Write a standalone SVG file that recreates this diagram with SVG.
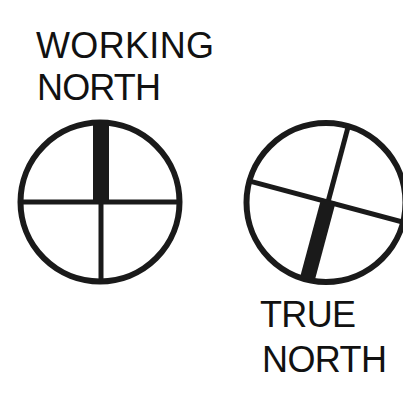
<svg xmlns="http://www.w3.org/2000/svg" width="403" height="404" viewBox="0 0 403 404">
<style>
.lbl{font-family:"Liberation Sans",Arial,sans-serif;font-size:36px;fill:#111}
.ring{fill:none;stroke:#1a1a1a;stroke-width:6}
.thin{stroke:#1a1a1a;stroke-width:5}
.bar{fill:#1a1a1a}
</style>
<rect width="403" height="404" fill="#fff"/>
<g id="working-north">
<text class="lbl" x="36" y="58" textLength="178">WORKING</text>
<text class="lbl" x="37" y="100" textLength="124">NORTH</text>
<circle class="ring" cx="100" cy="202" r="79.5"/>
<line class="thin" x1="20" y1="202" x2="180" y2="202"/>
<line class="thin" x1="101" y1="202" x2="101" y2="282"/>
<rect class="bar" x="93" y="121" width="16" height="83"/>
</g>
<g id="true-north">
<text class="lbl" x="260" y="326.5" textLength="96">TRUE</text>
<text class="lbl" x="262" y="371.5" textLength="125">NORTH</text>
<circle class="ring" cx="326" cy="202.5" r="79.5"/>
<g transform="rotate(15 328 202)">
<line class="thin" x1="248" y1="202" x2="410" y2="202"/>
<line class="thin" x1="328" y1="202" x2="328" y2="122"/>
<rect class="bar" x="320.5" y="200" width="15" height="82"/>
</g>
</g>
</svg>
